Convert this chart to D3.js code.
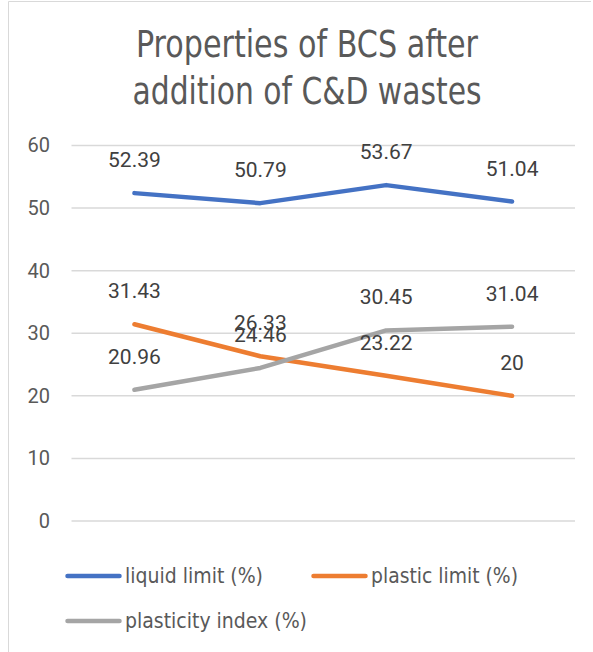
<!DOCTYPE html>
<html>
<head>
<meta charset="utf-8">
<script src="https://cdn.jsdelivr.net/npm/d3@7"></script>
<style>
  html, body { margin: 0; padding: 0; background: #fff; }
  svg { display: block; }
</style>
</head>
<body>
<div id="chart"></div>
<script>
// data
const categories = ["1", "2", "3", "4"];
const liquidLimit = [52.39, 50.79, 53.67, 51.04];
const plasticLimit = [31.43, 26.33, 23.22, 20];
const plasticityIndex = [20.96, 24.46, 30.45, 31.04];
const seriesNames = ["liquid limit (%)", "plastic limit (%)", "plasticity index (%)"];
const yTicks = [0, 10, 20, 30, 40, 50, 60];
const titleLines = ["Properties of BCS after", "addition of C&D wastes"];

const COLORS = ["#4472C4", "#ED7D31", "#A5A5A5"];
const NARROW = "'Liberation Sans Narrow', 'DejaVu Sans Condensed', 'Liberation Sans', sans-serif";
const NUMFONT = "Roboto, 'Noto Sans', sans-serif";

const width = 593, height = 652;
const svg = d3.select("#chart").append("svg")
  .attr("width", width)
  .attr("height", height);

// chart border (top and left edges visible)
svg.append("line").attr("x1", 8.5).attr("x2", 591).attr("y1", 1.5).attr("y2", 1.5)
  .attr("stroke", "#d9d9d9").attr("stroke-width", 1);
svg.append("line").attr("x1", 8.5).attr("x2", 8.5).attr("y1", 1.5).attr("y2", height)
  .attr("stroke", "#d9d9d9").attr("stroke-width", 1);

// title
const titleWidths = [342, 349];
svg.append("g").selectAll("text")
  .data(titleLines)
  .join("text")
  .attr("x", 307)
  .attr("y", (d, i) => 57 + i * 47)
  .attr("text-anchor", "middle")
  .attr("font-family", NARROW)
  .attr("font-size", 37)
  .attr("fill", "#595959")
  .attr("textLength", (d, i) => titleWidths[i])
  .attr("lengthAdjust", "spacingAndGlyphs")
  .text(d => d);

// scales
const x = d3.scaleBand().domain(categories).range([71.5, 575]);
const y = d3.scaleLinear().domain([0, 60]).range([521, 145.5]);

// gridlines
svg.append("g").selectAll("line")
  .data(yTicks)
  .join("line")
  .attr("x1", 71.5).attr("x2", 575)
  .attr("y1", d => y(d)).attr("y2", d => y(d))
  .attr("stroke", "#d9d9d9").attr("stroke-width", 1.5);

// y axis labels
const yAxis = svg.append("g")
  .attr("transform", "translate(56,0)")
  .call(d3.axisLeft(y).tickValues(yTicks).tickSize(0).tickPadding(6));
yAxis.select(".domain").remove();
yAxis.selectAll("text")
  .attr("font-family", NUMFONT)
  .attr("font-size", 20)
  .attr("fill", "#595959");

// lines
const allSeries = [liquidLimit, plasticLimit, plasticityIndex];
const line = d3.line()
  .x((d, i) => x(categories[i]) + x.bandwidth() / 2)
  .y(d => y(d));

svg.append("g").selectAll("path")
  .data(allSeries)
  .join("path")
  .attr("d", d => line(d))
  .attr("fill", "none")
  .attr("stroke", (d, i) => COLORS[i])
  .attr("stroke-width", 4.5)
  .attr("stroke-linecap", "round")
  .attr("stroke-linejoin", "round");

// data labels above each point
allSeries.forEach(values => {
  svg.append("g").selectAll("text")
    .data(values)
    .join("text")
    .attr("x", (d, i) => x(categories[i]) + x.bandwidth() / 2)
    .attr("y", d => y(d) - 26)
    .attr("text-anchor", "middle")
    .attr("font-family", NUMFONT)
    .attr("font-size", 21)
    .attr("fill", "#404040")
    .text(d => d);
});

// legend
const legendPos = [
  { x: 66, y: 576 },
  { x: 312, y: 576 },
  { x: 66, y: 621 }
];
const legendWidths = [138, 147, 182];
const legend = svg.append("g").selectAll("g")
  .data(seriesNames)
  .join("g")
  .attr("transform", (d, i) => `translate(${legendPos[i].x},${legendPos[i].y})`);

legend.append("line")
  .attr("x1", 1.5).attr("x2", 53.5)
  .attr("y1", 0).attr("y2", 0)
  .attr("stroke", (d, i) => COLORS[i])
  .attr("stroke-width", 4.5)
  .attr("stroke-linecap", "round");

legend.append("text")
  .attr("x", 59)
  .attr("y", 7)
  .attr("font-family", NARROW)
  .attr("font-size", 21)
  .attr("fill", "#595959")
  .attr("textLength", (d, i) => legendWidths[i])
  .attr("lengthAdjust", "spacingAndGlyphs")
  .text(d => d);
</script>
</body>
</html>
